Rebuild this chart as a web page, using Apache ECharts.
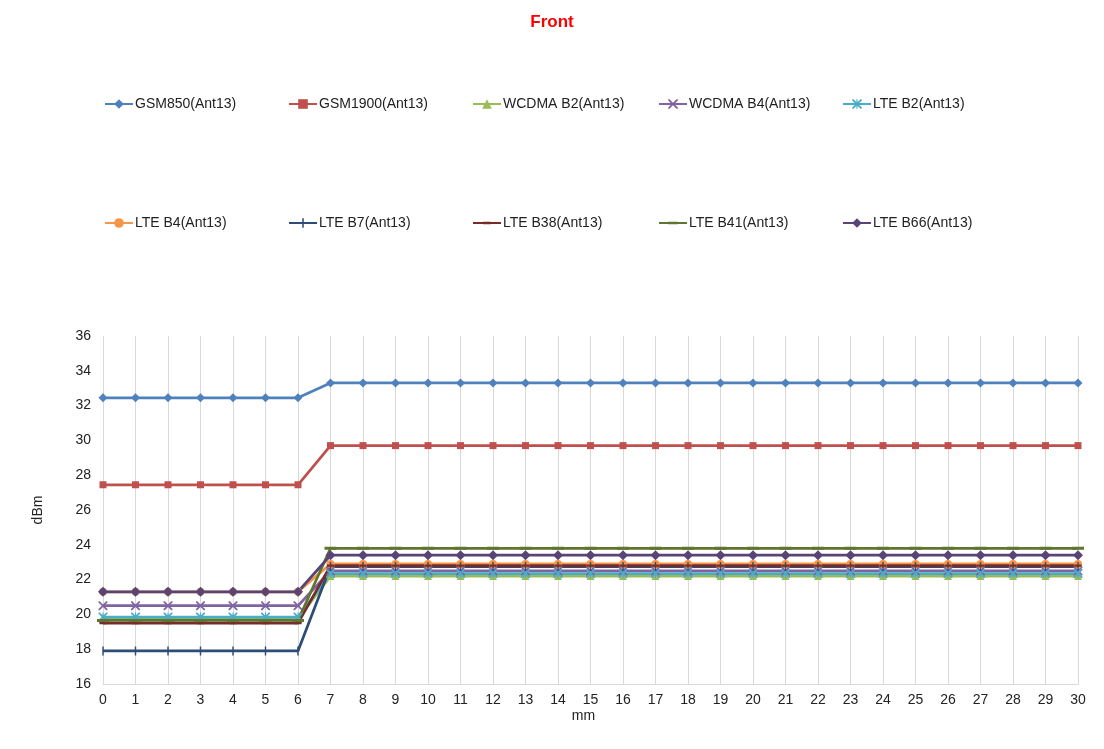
<!DOCTYPE html>
<html><head><meta charset="utf-8">
<script src="https://cdn.jsdelivr.net/npm/echarts@6/dist/echarts.min.js"></script>
<style>html,body{margin:0;padding:0;background:#fff}#c{width:1104px;height:749px}</style>
</head><body><div id="c"></div>
<script>
const categories = ['0','1','2','3','4','5','6','7','8','9','10','11','12','13','14','15','16','17','18','19','20','21','22','23','24','25','26','27','28','29','30'];
const seriesNames = ['GSM850(Ant13)','GSM1900(Ant13)','WCDMA B2(Ant13)','WCDMA B4(Ant13)','LTE B2(Ant13)','LTE B4(Ant13)','LTE B7(Ant13)','LTE B38(Ant13)','LTE B41(Ant13)','LTE B66(Ant13)'];
const gsm850   = [32.45,32.45,32.45,32.45,32.45,32.45,32.45,33.3,33.3,33.3,33.3,33.3,33.3,33.3,33.3,33.3,33.3,33.3,33.3,33.3,33.3,33.3,33.3,33.3,33.3,33.3,33.3,33.3,33.3,33.3,33.3];
const gsm1900  = [27.45,27.45,27.45,27.45,27.45,27.45,27.45,29.7,29.7,29.7,29.7,29.7,29.7,29.7,29.7,29.7,29.7,29.7,29.7,29.7,29.7,29.7,29.7,29.7,29.7,29.7,29.7,29.7,29.7,29.7,29.7];
const wcdmaB2  = [19.75,19.75,19.75,19.75,19.75,19.75,19.75,22.2,22.2,22.2,22.2,22.2,22.2,22.2,22.2,22.2,22.2,22.2,22.2,22.2,22.2,22.2,22.2,22.2,22.2,22.2,22.2,22.2,22.2,22.2,22.2];
const wcdmaB4  = [20.5,20.5,20.5,20.5,20.5,20.5,20.5,22.5,22.5,22.5,22.5,22.5,22.5,22.5,22.5,22.5,22.5,22.5,22.5,22.5,22.5,22.5,22.5,22.5,22.5,22.5,22.5,22.5,22.5,22.5,22.5];
const lteB2    = [19.85,19.85,19.85,19.85,19.85,19.85,19.85,22.35,22.35,22.35,22.35,22.35,22.35,22.35,22.35,22.35,22.35,22.35,22.35,22.35,22.35,22.35,22.35,22.35,22.35,22.35,22.35,22.35,22.35,22.35,22.35];
const lteB4    = [21.3,21.3,21.3,21.3,21.3,21.3,21.3,22.9,22.9,22.9,22.9,22.9,22.9,22.9,22.9,22.9,22.9,22.9,22.9,22.9,22.9,22.9,22.9,22.9,22.9,22.9,22.9,22.9,22.9,22.9,22.9];
const lteB7    = [17.9,17.9,17.9,17.9,17.9,17.9,17.9,22.75,22.75,22.75,22.75,22.75,22.75,22.75,22.75,22.75,22.75,22.75,22.75,22.75,22.75,22.75,22.75,22.75,22.75,22.75,22.75,22.75,22.75,22.75,22.75];
const lteB38   = [19.5,19.5,19.5,19.5,19.5,19.5,19.5,22.8,22.8,22.8,22.8,22.8,22.8,22.8,22.8,22.8,22.8,22.8,22.8,22.8,22.8,22.8,22.8,22.8,22.8,22.8,22.8,22.8,22.8,22.8,22.8];
const lteB41   = [19.65,19.65,19.65,19.65,19.65,19.65,19.65,23.8,23.8,23.8,23.8,23.8,23.8,23.8,23.8,23.8,23.8,23.8,23.8,23.8,23.8,23.8,23.8,23.8,23.8,23.8,23.8,23.8,23.8,23.8,23.8];
const lteB66   = [21.3,21.3,21.3,21.3,21.3,21.3,21.3,23.4,23.4,23.4,23.4,23.4,23.4,23.4,23.4,23.4,23.4,23.4,23.4,23.4,23.4,23.4,23.4,23.4,23.4,23.4,23.4,23.4,23.4,23.4,23.4];
const allData = [gsm850, gsm1900, wcdmaB2, wcdmaB4, lteB2, lteB4, lteB7, lteB38, lteB41, lteB66];
const colors = ['#4F81BD','#C0504D','#9BBB59','#8064A2','#4BACC6','#F79646','#2C4D75','#772C2A','#5F7530','#584476'];

// symbol shapes in a 10x10 box (tiny corner marks keep the box square)
const BOX = 'M0,0 L0.01,0 L0,0.01 Z M10,10 L9.99,10 L10,9.99 Z ';
const X_PATH = 'path://M0,0 L1.4,0 L5,3.6 L8.6,0 L10,0 L10,1.4 L6.4,5 L10,8.6 L10,10 L8.6,10 L5,6.4 L1.4,10 L0,10 L0,8.6 L3.6,5 L0,1.4 Z';
const AST_PATH = 'path://M0,0 L1.4,0 L5,3.6 L8.6,0 L10,0 L10,1.4 L6.4,5 L10,8.6 L10,10 L8.6,10 L5,6.4 L1.4,10 L0,10 L0,8.6 L3.6,5 L0,1.4 Z M4.4,0 L5.6,0 L5.6,10 L4.4,10 Z';
const VBAR = 'path://' + BOX + 'M4.2,0 L5.8,0 L5.8,10 L4.2,10 Z';
const SDASH = 'path://' + BOX + 'M1,3.8 L9,3.8 L9,6.2 L1,6.2 Z';
const LDASH = 'path://' + BOX + 'M0,3.8 L10,3.8 L10,6.2 L0,6.2 Z';
const symbols = ['diamond','rect','triangle',X_PATH,AST_PATH,'circle',VBAR,SDASH,LDASH,'diamond'];
const sizes = [9,7,8,9,9,8,9,9,12,10];

const series = seriesNames.map((n, i) => ({
  name: n, type: 'line', data: allData[i],
  symbol: symbols[i], symbolSize: sizes[i], showSymbol: true,
  lineStyle: { width: 2.75, color: colors[i] },
  itemStyle: { color: colors[i] },
  animation: false
}));

const legendLeft = [99, 283, 467, 653, 837];
const legends = seriesNames.map((n, i) => ({
  data: [n], left: legendLeft[i % 5], top: i < 5 ? 92 : 211,
  itemWidth: 28, itemHeight: 12, itemGap: 0,
  textStyle: { fontFamily: 'Liberation Sans, Arial, sans-serif', fontSize: 14, color: '#222', padding: [0,0,0,-3] },
  selectedMode: false
}));

const chart = echarts.init(document.getElementById('c'), null, { renderer: 'canvas' });
chart.setOption({
  backgroundColor: '#fff',
  animation: false,
  title: { text: 'Front', left: 'center', top: 9, textStyle: { color: '#FF0000', fontSize: 17, fontWeight: 'bold', fontFamily: 'Liberation Sans, Arial, sans-serif' } },
  legend: legends,
  grid: { left: 103, right: 26, top: 336, bottom: 65, containLabel: false },
  xAxis: {
    type: 'category', data: categories, boundaryGap: false,
    name: 'mm', nameLocation: 'middle', nameGap: 25,
    nameTextStyle: { fontFamily: 'Liberation Sans, Arial, sans-serif', fontSize: 14, color: '#222', padding: [0,14,0,0] },
    axisLine: { lineStyle: { color: '#d9d9d9', width: 1 } },
    axisTick: { show: false },
    axisLabel: { fontFamily: 'Liberation Sans, Arial, sans-serif', fontSize: 14, color: '#222', margin: 9, interval: 0 },
    splitLine: { show: true, lineStyle: { color: '#d9d9d9', width: 1 } }
  },
  yAxis: {
    type: 'value', min: 16, max: 36, interval: 2,
    name: 'dBm', nameLocation: 'middle', nameGap: 58, nameRotate: 90,
    nameTextStyle: { fontFamily: 'Liberation Sans, Arial, sans-serif', fontSize: 14, color: '#222' },
    axisLine: { show: false }, axisTick: { show: false },
    axisLabel: { fontFamily: 'Liberation Sans, Arial, sans-serif', fontSize: 14, color: '#222', margin: 12 },
    splitLine: { show: false }
  },
  series: series
});
</script>
</body></html>
